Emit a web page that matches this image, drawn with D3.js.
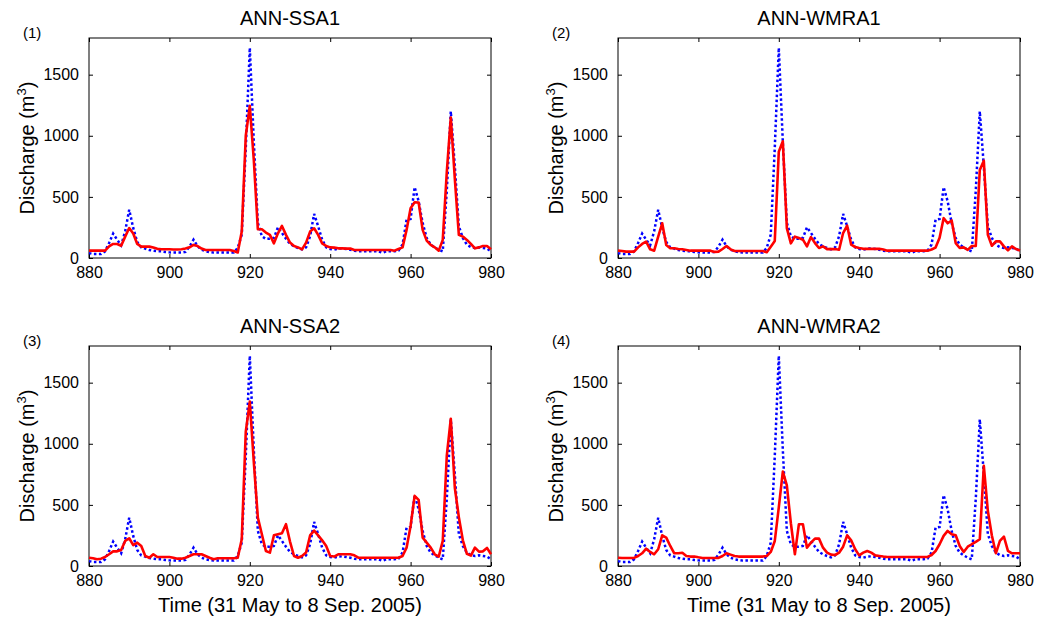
<!DOCTYPE html>
<html lang="en">
<head>
<meta charset="UTF-8">
<title>ANN discharge</title>
<script src="https://cdn.jsdelivr.net/npm/d3@7"></script>
<style>
body { margin: 0; background: #fff; }
svg text { font-family: Arial, 'Liberation Sans', sans-serif; fill: #000; }
</style>
</head>
<body>
<svg id="chart" width="1046" height="623"></svg>
<script>
// time index of first day (31 May 2005 = day 880)
const startDay = 880;
const xTicks = [880, 900, 920, 940, 960, 980];
const yTicks = [0, 500, 1000, 1500];

// observed discharge (blue dotted, same in every panel)
const observed = [
  40, 33, 33, 33, 55, 123, 200, 150, 104, 219,
  395, 246, 131, 87, 77, 66, 60, 55, 55, 49,
  46, 44, 44, 44, 50, 93, 150, 96, 68, 55,
  49, 44, 44, 44, 44, 44, 44, 82, 191, 900,
  1720, 950, 287, 178, 156, 158, 165, 251, 205, 158,
  115, 96, 82, 71, 87, 178, 361, 260, 150, 87,
  74, 68, 77, 79, 74, 68, 60, 55, 55, 55,
  55, 55, 55, 44, 55, 55, 55, 60, 110, 314,
  320, 580, 464, 287, 164, 109, 87, 68, 55, 550,
  1200, 750, 260, 164, 109, 90, 82, 87, 82, 77,
  55
];

// model outputs (red)
const ssa1 = [
  60, 60, 60, 60, 60, 95, 115, 115, 100, 175,
  245, 200, 115, 93, 93, 93, 85, 75, 72, 72,
  72, 70, 70, 72, 77, 87, 107, 98, 77, 66,
  66, 66, 66, 66, 66, 66, 57, 45, 216, 1000,
  1245, 800, 235, 235, 208, 189, 120, 202, 262, 189,
  126, 98, 87, 71, 126, 216, 243, 189, 120, 98,
  87, 85, 79, 79, 77, 77, 66, 66, 66, 66,
  66, 66, 66, 66, 66, 66, 60, 74, 87, 230,
  407, 456, 454, 230, 142, 107, 87, 60, 148, 700,
  1150, 650, 189, 175, 148, 115, 79, 87, 98, 98,
  71
];
const wmra1 = [
  60, 57, 52, 52, 52, 87, 115, 134, 71, 60,
  175, 284, 107, 80, 80, 74, 71, 66, 60, 60,
  60, 60, 60, 60, 50, 52, 74, 98, 71, 57,
  57, 57, 57, 57, 57, 57, 57, 47, 93, 140,
  870, 955, 245, 120, 175, 163, 150, 95, 171, 122,
  82, 95, 73, 73, 73, 68, 204, 264, 109, 90,
  82, 75, 75, 75, 75, 75, 70, 60, 60, 60,
  60, 60, 60, 60, 60, 60, 60, 60, 70, 85,
  165, 326, 284, 307, 122, 82, 87, 66, 98, 98,
  720, 796, 190, 100, 136, 136, 95, 62, 95, 73,
  62
];
const ssa2 = [
  68, 63, 55, 60, 74, 96, 120, 120, 131, 205,
  227, 170, 191, 164, 82, 68, 96, 74, 74, 74,
  74, 68, 60, 60, 68, 82, 96, 96, 96, 82,
  68, 55, 63, 63, 63, 63, 63, 68, 219, 1100,
  1345, 850, 396, 260, 123, 109, 251, 260, 268, 342,
  200, 82, 68, 82, 110, 250, 290, 250, 210, 164,
  82, 77, 96, 96, 96, 96, 87, 68, 68, 68,
  68, 68, 68, 68, 68, 68, 68, 68, 82, 150,
  328, 574, 541, 232, 191, 150, 96, 77, 205, 900,
  1205, 640, 400, 210, 100, 85, 150, 117, 120, 148,
  96
];
const wmra2 = [
  68, 66, 66, 66, 66, 82, 104, 142, 115, 96,
  137, 251, 232, 164, 104, 104, 109, 82, 77, 77,
  71, 66, 66, 66, 66, 66, 82, 104, 93, 82,
  77, 77, 77, 77, 77, 77, 77, 82, 115, 205,
  480, 773, 660, 350, 96, 342, 342, 150, 191, 224,
  224, 150, 109, 93, 90, 109, 158, 251, 210, 137,
  87, 109, 123, 109, 87, 82, 77, 74, 74, 74,
  74, 74, 74, 74, 74, 74, 74, 74, 90, 123,
  178, 246, 287, 260, 251, 164, 115, 158, 178, 197,
  219, 820, 450, 250, 104, 205, 240, 123, 104, 104,
  104
];

const panels = [
  {label: '(1)', title: 'ANN-SSA1', model: ssa1, left: 89, top: 38, xLabel: false},
  {label: '(2)', title: 'ANN-WMRA1', model: wmra1, left: 618, top: 38, xLabel: false},
  {label: '(3)', title: 'ANN-SSA2', model: ssa2, left: 89, top: 346, xLabel: true},
  {label: '(4)', title: 'ANN-WMRA2', model: wmra2, left: 618, top: 346, xLabel: true}
];

const W = 402, H = 220, tick = 4;
const svg = d3.select('#chart');

panels.forEach(p => {
  const x = d3.scaleLinear().domain([880, 980]).range([0, W]);
  const y = d3.scaleLinear().domain([0, 1800]).range([H, 0]);
  const g = svg.append('g').attr('transform', `translate(${p.left},${p.top})`);

  // bottom / left axes with labels, ticks pointing inward
  const xAxis = g.append('g').attr('transform', `translate(0,${H})`)
    .call(d3.axisBottom(x).tickValues(xTicks).tickFormat(d3.format('d'))
      .tickSizeInner(-tick).tickSizeOuter(0).tickPadding(9));
  const yAxis = g.append('g')
    .call(d3.axisLeft(y).tickValues(yTicks).tickFormat(d3.format('d'))
      .tickSizeInner(-tick).tickSizeOuter(0).tickPadding(10));
  // top / right: ticks only
  g.append('g').call(d3.axisTop(x).tickValues(xTicks).tickSizeInner(-tick).tickSizeOuter(0).tickFormat(''));
  g.append('g').attr('transform', `translate(${W},0)`)
    .call(d3.axisRight(y).tickValues(yTicks).tickSizeInner(-tick).tickSizeOuter(0).tickFormat(''));
  g.selectAll('.domain').remove();
  g.selectAll('.tick line').attr('stroke', '#000');
  xAxis.selectAll('text').attr('font-size', 16).attr('dy', '0.71em');
  yAxis.selectAll('text').attr('font-size', 16);

  g.append('rect').attr('width', W).attr('height', H)
    .attr('fill', 'none').attr('stroke', '#000').attr('stroke-width', 1);

  const line = d3.line().x((d, i) => x(startDay + i)).y(d => y(d));

  g.append('path').datum(observed)
    .attr('d', line).attr('fill', 'none')
    .attr('stroke', '#0000ff').attr('stroke-width', 2.5)
    .attr('stroke-dasharray', '2.5,2.5');
  g.append('path').datum(p.model)
    .attr('d', line).attr('fill', 'none')
    .attr('stroke', '#ff0000').attr('stroke-width', 2.6)
    .attr('stroke-linejoin', 'round');

  g.append('text').attr('x', W / 2).attr('y', -13)
    .attr('text-anchor', 'middle').attr('font-size', 20).text(p.title);
  g.append('text').attr('x', -66).attr('y', 0)
    .attr('font-size', 15).text(p.label);

  // y label, rotated
  const yl = g.append('text')
    .attr('transform', `translate(-55,${H / 2}) rotate(-90)`)
    .attr('text-anchor', 'middle').attr('font-size', 20);
  yl.append('tspan').text('Discharge (m');
  yl.append('tspan').attr('font-size', 13).attr('dy', -8).text('3');
  yl.append('tspan').attr('dy', 8).text(')');

  if (p.xLabel) {
    g.append('text').attr('x', W / 2).attr('y', H + 46)
      .attr('text-anchor', 'middle').attr('font-size', 20)
      .text('Time (31 May to 8 Sep. 2005)');
  }
});
</script>
</body>
</html>
